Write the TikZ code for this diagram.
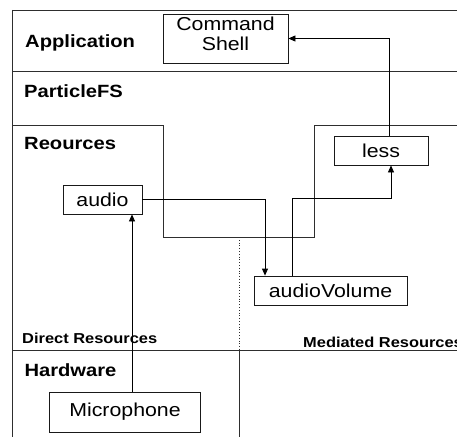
\documentclass[tikz,border=0pt]{standalone}
\usepackage{fontspec}
\setmainfont[FakeStretch=1.14]{Liberation Sans}
\usetikzlibrary{arrows.meta}
\begin{document}
\begin{tikzpicture}[x=1pt,y=-1pt,
  ln/.style={draw=black!82,line width=0.8pt},
  box/.style={ln,draw=black!90,inner sep=0pt,font=\fontsize{18.7}{20}\selectfont,align=center},
  layer/.style={anchor=base west,inner sep=0pt,font=\fontsize{17.7}{20}\selectfont\bfseries},
  small/.style={anchor=base west,inner sep=0pt,font=\fontsize{14.4}{16}\selectfont\bfseries},
  arr/.style={ln,draw=black,-{Triangle[length=7pt,width=6pt]}}]
\useasboundingbox (0,0) rectangle (457,436);
\clip (0,0) rectangle (457,436);
% layer lines
\draw[ln] (12,10) -- (457,10);
\draw[ln] (12,10) -- (12,437);
\draw[ln] (12,71) -- (457,71);
\draw[ln] (12,125) -- (163,125) -- (163,237) -- (314,237) -- (314,125) -- (457,125);
\draw[ln] (12,350) -- (457,350);
\draw[ln,dotted] (239,237) -- (239,350);
\draw[ln] (239,350) -- (239,437);
% labels
\node[layer] (lapp) at (25,47.7) {Application};
\node[layer] (lpfs) at (24,97) {ParticleFS};
\node[layer] (lres) at (24,149.3) {Reources};
\node[layer] (lhw) at (24.3,376.7) {Hardware};
\node[small] (ldir) at (22,343) {Direct Resources};
\node[small] (lmed) at (303,347) {Mediated Resources};
% boxes
\node[box,minimum width=125pt,minimum height=49pt,text depth=10pt] (cmd) at (225.5,38.5) {Command\\Shell};
\node[box,minimum width=94pt,minimum height=29pt] (less) at (381,150.5) {less};
\node[box,minimum width=79pt,minimum height=29pt] (audio) at (102.5,199.5) {audio};
\node[box,minimum width=153pt,minimum height=29pt] (vol) at (330.5,290.5) {audioVolume};
\node[box,minimum width=151pt,minimum height=40pt] (mic) at (125,412) {Microphone};
% connectors
\draw[arr] ([xshift=8pt]less.north) |- (cmd.east);
\draw[arr] (audio.east) -| ([xshift=-65.5pt]vol.north);
\draw[arr] ([xshift=-38.5pt]vol.north) -- ++(0,-77) -| ([xshift=10pt]less.south);
\draw[arr] ([xshift=7pt]mic.north) -- ([xshift=7pt]mic.north |- audio.south);
\end{tikzpicture}
\end{document}
